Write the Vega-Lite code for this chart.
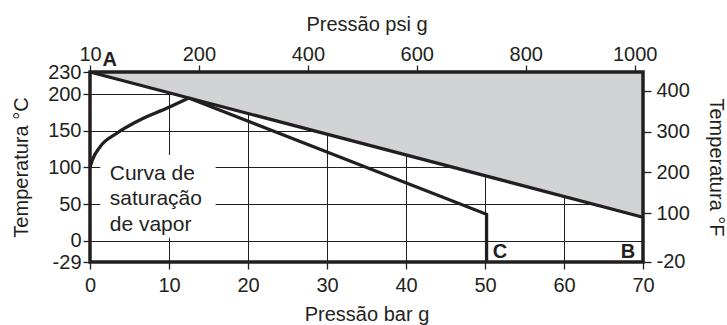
{
  "$schema": "https://vega.github.io/schema/vega-lite/v6.json",
  "width": 553,
  "height": 190,
  "autosize": "none",
  "padding": {"left": 90, "top": 72, "right": 84, "bottom": 63},
  "background": "white",
  "config": {
    "view": {"stroke": null},
    "font": "Liberation Sans",
    "axis": {
      "domain": false,
      "tickColor": "#231f20",
      "tickWidth": 1.3,
      "tickSize": 7,
      "labelFontSize": 20,
      "labelColor": "#231f20",
      "titleFontSize": 20,
      "titleFontWeight": "normal",
      "titleColor": "#231f20",
      "gridColor": "#231f20",
      "gridWidth": 1,
      "gridOpacity": 1,
      "labelFlush": false,
      "labelOverlap": false
    }
  },
  "datasets": {
    "upper": [{"bar": 0, "c": 230}, {"bar": 70, "c": 32}],
    "saturation": [
      {"bar": 0, "c": 100},
      {"bar": 0.3, "c": 110},
      {"bar": 1.27, "c": 128},
      {"bar": 3.4, "c": 146.5},
      {"bar": 6.3, "c": 164.5},
      {"bar": 9.7, "c": 180.5},
      {"bar": 12.5, "c": 194.6}
    ],
    "lower": [
      {"i": 0, "bar": 12.5, "c": 194.6},
      {"i": 1, "bar": 50.2, "c": 36},
      {"i": 2, "bar": 50.2, "c": -29}
    ],
    "letters": [
      {"bar": 2.5, "c": 246, "t": "A"},
      {"bar": 68.1, "c": -15.3, "t": "B"},
      {"bar": 51.9, "c": -15.3, "t": "C"}
    ]
  },
  "layer": [
    {
      "data": {"name": "upper"},
      "mark": {"type": "area", "fill": "#d1d3d4", "stroke": null},
      "encoding": {
        "x": {
          "field": "bar",
          "type": "quantitative",
          "scale": {"domain": [0, 70], "nice": false, "zero": false},
          "axis": {
            "orient": "bottom",
            "title": "Pressão bar g",
            "values": [0, 10, 20, 30, 40, 50, 60, 70],
            "grid": true,
            "labelPadding": 6,
            "titlePadding": 9
          }
        },
        "y": {
          "field": "c",
          "type": "quantitative",
          "scale": {"domain": [-29, 230], "nice": false, "zero": false},
          "axis": {
            "orient": "left",
            "title": "Temperatura °C",
            "values": [-29, 0, 50, 100, 150, 200, 230],
            "labelExpr": "replace(datum.label, '−', '-')",
            "grid": true,
            "labelPadding": 2,
            "titlePadding": 16
          }
        },
        "y2": {"datum": 230}
      }
    },
    {
      "data": {"values": [{"bar": 1.3, "bar2": 15.9, "c": 4, "c2": 117}]},
      "mark": {"type": "rect", "fill": "white"},
      "encoding": {
        "x": {"field": "bar", "type": "quantitative", "scale": {"domain": [0, 70], "nice": false, "zero": false}, "axis": null},
        "x2": {"field": "bar2"},
        "y": {"field": "c", "type": "quantitative", "scale": {"domain": [-29, 230], "nice": false, "zero": false}, "axis": null},
        "y2": {"field": "c2"}
      }
    },
    {
      "data": {"name": "upper"},
      "mark": {"type": "line", "stroke": "#231f20", "strokeWidth": 3.3},
      "encoding": {
        "x": {"field": "bar", "type": "quantitative", "scale": {"domain": [0, 70], "nice": false, "zero": false}, "axis": null},
        "y": {"field": "c", "type": "quantitative", "scale": {"domain": [-29, 230], "nice": false, "zero": false}, "axis": null}
      }
    },
    {
      "data": {"name": "saturation"},
      "mark": {"type": "line", "stroke": "#231f20", "strokeWidth": 3.3, "interpolate": "monotone"},
      "encoding": {
        "x": {"field": "bar", "type": "quantitative", "scale": {"domain": [0, 70], "nice": false, "zero": false}, "axis": null},
        "y": {"field": "c", "type": "quantitative", "scale": {"domain": [-29, 230], "nice": false, "zero": false}, "axis": null}
      }
    },
    {
      "data": {"name": "lower"},
      "mark": {"type": "line", "stroke": "#231f20", "strokeWidth": 3.3, "strokeJoin": "miter"},
      "encoding": {
        "x": {"field": "bar", "type": "quantitative", "scale": {"domain": [0, 70], "nice": false, "zero": false}, "axis": null},
        "y": {"field": "c", "type": "quantitative", "scale": {"domain": [-29, 230], "nice": false, "zero": false}, "axis": null},
        "order": {"field": "i"}
      }
    },
    {
      "data": {"values": [{"bar": 0, "bar2": 70, "c": -29, "c2": 230}]},
      "mark": {"type": "rect", "filled": false, "stroke": "#231f20", "strokeWidth": 3.5},
      "encoding": {
        "x": {
          "field": "bar",
          "type": "quantitative",
          "scale": {"domain": [0, 70], "nice": false, "zero": false},
          "axis": {
            "orient": "top",
            "title": "Pressão psi g",
            "values": [0, 13.7895, 27.579, 41.3685, 55.158, 68.9476],
            "labelExpr": "datum.value == 0 ? '10' : format(datum.value * 14.5038, '.0f')",
            "grid": false,
            "labelPadding": 1,
            "titlePadding": 10
          }
        },
        "x2": {"field": "bar2"},
        "y": {
          "field": "c",
          "type": "quantitative",
          "scale": {"domain": [-29, 230], "nice": false, "zero": false},
          "axis": {
            "orient": "right",
            "title": "Temperatura °F",
            "values": [-28.889, 37.778, 93.333, 148.889, 204.444],
            "labelExpr": "replace(format(datum.value * 1.8 + 32, '.0f'), '−', '-')",
            "grid": false,
            "tickSize": 8,
            "labelPadding": 5,
            "titlePadding": 16
          }
        },
        "y2": {"field": "c2"}
      }
    },
    {
      "data": {"name": "letters"},
      "mark": {"type": "text", "fontWeight": "bold", "fontSize": 20, "color": "#231f20", "align": "center", "baseline": "middle"},
      "encoding": {
        "x": {"field": "bar", "type": "quantitative", "scale": {"domain": [0, 70], "nice": false, "zero": false}, "axis": null},
        "y": {"field": "c", "type": "quantitative", "scale": {"domain": [-29, 230], "nice": false, "zero": false}, "axis": null},
        "text": {"field": "t"}
      }
    },
    {
      "data": {"values": [{"bar": 2.5, "c": 91, "t": "Curva de\nsaturação\nde vapor"}]},
      "mark": {"type": "text", "fontSize": 21, "color": "#231f20", "align": "left", "baseline": "middle", "lineBreak": "\n", "lineHeight": 25.5},
      "encoding": {
        "x": {"field": "bar", "type": "quantitative", "scale": {"domain": [0, 70], "nice": false, "zero": false}, "axis": null},
        "y": {"field": "c", "type": "quantitative", "scale": {"domain": [-29, 230], "nice": false, "zero": false}, "axis": null},
        "text": {"field": "t"}
      }
    }
  ],
  "resolve": {"axis": {"x": "independent", "y": "independent"}}
}
